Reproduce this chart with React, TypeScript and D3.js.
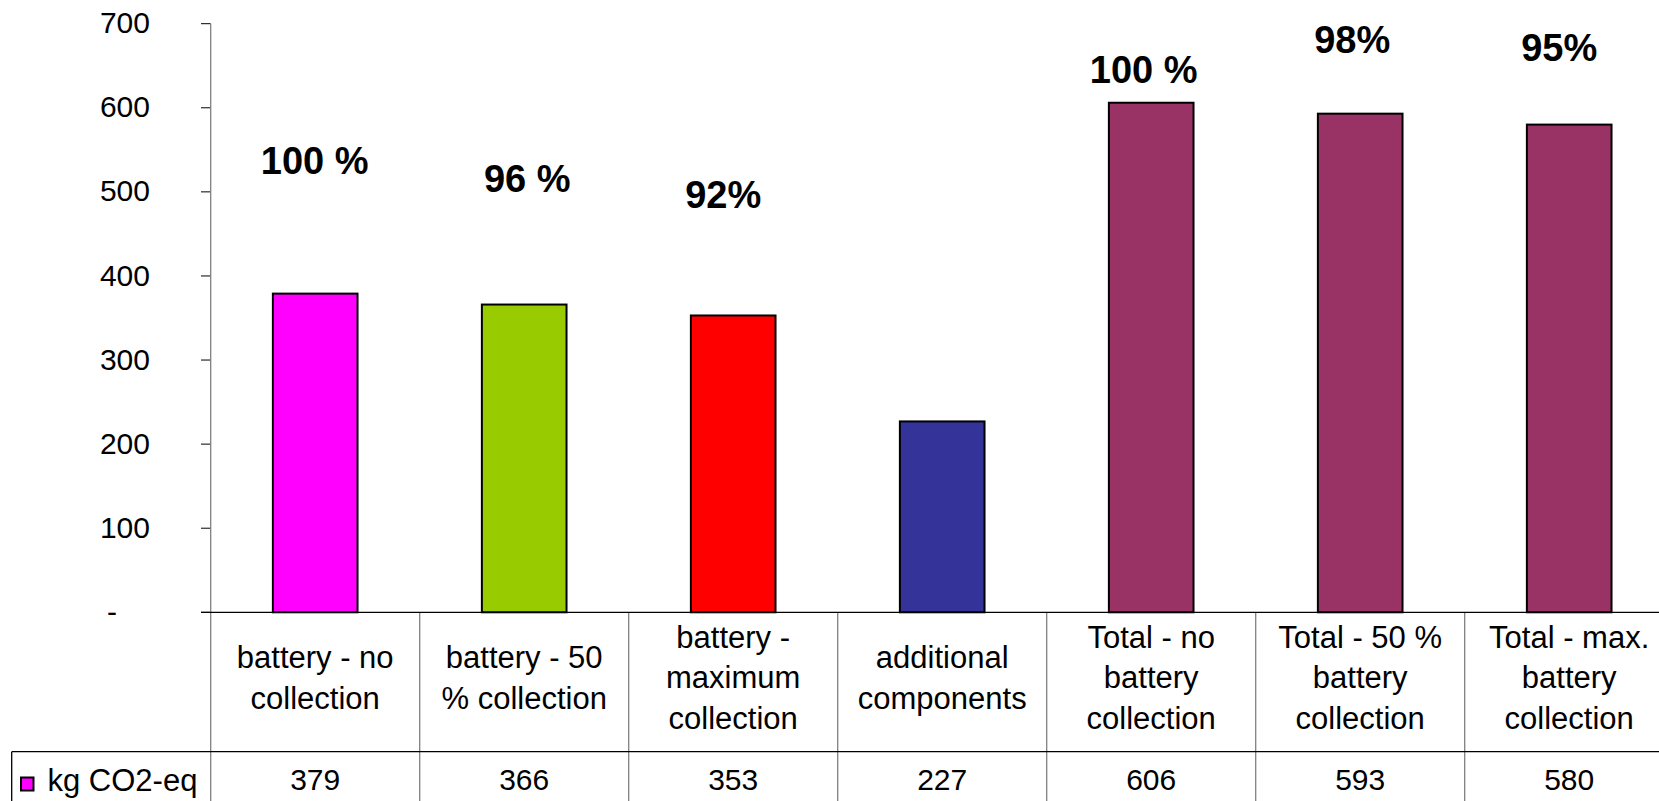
import React from "react";
import * as d3 from "d3";

const categories = [
  "battery - no\ncollection",
  "battery - 50\n% collection",
  "battery -\nmaximum\ncollection",
  "additional\ncomponents",
  "Total - no\nbattery\ncollection",
  "Total - 50 %\nbattery\ncollection",
  "Total - max.\nbattery\ncollection",
];
const values = [379, 366, 353, 227, 606, 593, 580];
const barColors = ["#FF00FF", "#99CC00", "#FF0000", "#333399", "#993366", "#993366", "#993366"];
const pctLabels = ["100 %", "96 %", "92%", "", "100 %", "98%", "95%"];
// vertical level (in kg CO2-eq units) where each annotation sits
const pctLevels = [521, 500, 481, 0, 629, 665, 656];
const yTicks = [0, 100, 200, 300, 400, 500, 600, 700];
const seriesName = "kg CO2-eq";

const W = 1659;
const H = 801;
const FONT = "'Liberation Sans', Arial, sans-serif";

export default function App() {
  const left = 210.7;
  const colW = 209;
  const x = d3
    .scaleBand<string>()
    .domain(categories)
    .range([left, left + colW * categories.length])
    .paddingInner(0)
    .paddingOuter(0);
  const y = d3.scaleLinear().domain([0, 700]).range([612.3, 23.7]);
  const barRatio = 0.405;
  const bw = x.bandwidth() * barRatio;
  const y0 = y(0);
  const rowY = 751.7;
  const lineH = 40.7;
  const midBase = 688.3;
  // hand-placed text boxes in the original sit slightly off bar centres
  const labelNudge = [-0.5, 3, -10, 0, -7.5, -8, -10];

  return (
    <svg
      width={W}
      height={H}
      style={{ position: "absolute", left: 0, top: 0, background: "#fff" }}
      fontFamily={FONT}
    >
      <rect x={0} y={0} width={W} height={H} fill="#fff" />
      {/* y ticks and labels */}
      {yTicks.map((t) => (
        <g key={t}>
          <line x1={201} x2={left} y1={y(t)} y2={y(t)} stroke="#000" strokeWidth={1} />
          {t === 0 ? (
            <text x={112} y={y(t) + 9.6} fontSize={30} textAnchor="middle" fill="#000">
              -
            </text>
          ) : (
            <text x={150} y={y(t) + 9.6} fontSize={30} textAnchor="end" fill="#000">
              {t}
            </text>
          )}
        </g>
      ))}
      {/* bars */}
      {categories.map((c, i) => (
        <rect
          key={c}
          x={(x(c) as number) + (x.bandwidth() - bw) / 2}
          y={y(values[i])}
          width={bw}
          height={y0 - y(values[i])}
          fill={barColors[i]}
          stroke="#000"
          strokeWidth={2}
        />
      ))}
      {/* percentage annotations */}
      {categories.map((c, i) =>
        pctLabels[i] ? (
          <text
            key={"p" + i}
            x={(x(c) as number) + x.bandwidth() / 2 + labelNudge[i]}
            y={y(pctLevels[i])}
            fontSize={38}
            fontWeight="bold"
            textAnchor="middle"
            fill="#000"
          >
            {pctLabels[i]}
          </text>
        ) : null
      )}
      {/* axis line + table verticals */}
      <line x1={left} x2={left} y1={y(700)} y2={H} stroke="#808080" strokeWidth={1.3} />
      {categories.map((c, i) => (
        <line
          key={"v" + i}
          x1={(x(c) as number) + x.bandwidth()}
          x2={(x(c) as number) + x.bandwidth()}
          y1={y0}
          y2={H}
          stroke="#808080"
          strokeWidth={1.3}
        />
      ))}
      {/* horizontal lines */}
      <line x1={201} x2={W} y1={y0} y2={y0} stroke="#000" strokeWidth={1.3} />
      <line x1={11.7} x2={W} y1={rowY} y2={rowY} stroke="#000" strokeWidth={1.3} />
      <line x1={11.7} x2={11.7} y1={rowY} y2={H} stroke="#000" strokeWidth={1.3} />
      {/* category labels */}
      {categories.map((c, i) => {
        const lines = c.split("\n");
        const cx = (x(c) as number) + x.bandwidth() / 2;
        return (
          <text key={"c" + i} x={cx} fontSize={31} textAnchor="middle" fill="#000">
            {lines.map((l, j) => (
              <tspan key={j} x={cx} y={midBase + (j - (lines.length - 1) / 2) * lineH}>
                {l}
              </tspan>
            ))}
          </text>
        );
      })}
      {/* values row */}
      {categories.map((c, i) => (
        <text
          key={"t" + i}
          x={(x(c) as number) + x.bandwidth() / 2}
          y={789.5}
          fontSize={30}
          textAnchor="middle"
          fill="#000"
        >
          {values[i]}
        </text>
      ))}
      {/* legend key */}
      <rect x={21} y={777.5} width={12.5} height={13} fill="#FF00FF" stroke="#000" strokeWidth={2} />
      <text x={47.5} y={790.5} fontSize={31} fill="#000">
        {seriesName}
      </text>
    </svg>
  );
}
